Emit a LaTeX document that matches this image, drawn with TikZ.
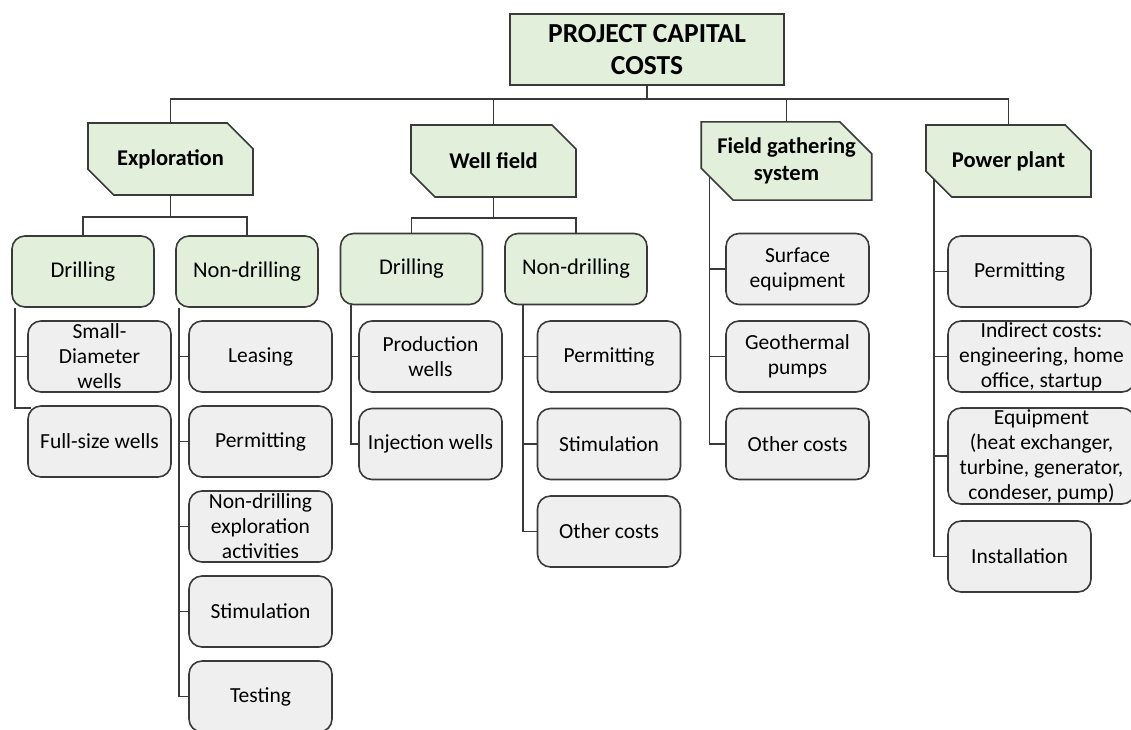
\documentclass[tikz,border=0pt]{standalone}
\usepackage{fontspec}
\setmainfont{Carlito}
\usetikzlibrary{shapes.misc,backgrounds}

\definecolor{boxgreen}{HTML}{E2EFDA}
\definecolor{boxgray}{HTML}{EFEFEF}
\definecolor{linegray}{HTML}{3A3A3A}

\tikzset{
  rootbox/.style={rectangle, draw=linegray, fill=boxgreen, line width=1.6pt,
                  minimum width=274pt, minimum height=71pt, inner sep=0pt, align=center,
                  font=\fontsize{27.5}{32}\selectfont\bfseries},
  catbox/.style={chamfered rectangle, chamfered rectangle corners={north east,south west},
                 chamfered rectangle xsep=16pt, chamfered rectangle ysep=16pt,
                 draw=linegray, fill=boxgreen, line width=1.6pt,
                 minimum width=165pt, minimum height=72pt, inner sep=0pt, align=center,
                 font=\fontsize{22.5}{27}\selectfont\bfseries},
  subbox/.style={rectangle, rounded corners=13pt, draw=linegray, fill=boxgreen, line width=1.6pt,
                 minimum width=142pt, minimum height=71pt, inner sep=0pt,
                 font=\fontsize{22.5}{27}\selectfont},
  leafbox/.style={rectangle, rounded corners=13pt, draw=linegray, fill=boxgray, line width=1.6pt,
                  minimum width=143pt, minimum height=71pt, inner sep=0pt, align=center,
                  font=\fontsize{21.5}{25}\selectfont},
  conn/.style={draw=linegray, line width=1.6pt}
}

\begin{document}
\begin{tikzpicture}[x=1pt,y=-1pt]

\useasboundingbox (0,0) rectangle (1131,729);

\def\colA{99.5};\def\colB{260.5};\def\colC{430.5};\def\colD{609};\def\colE{797.5};\def\colF{1019.5};

% top two levels
\node[rootbox] (root) at (647,49.5) {PROJECT CAPITAL\\COSTS};

\node[catbox] (cat_1) at (170.5,159) {Exploration};
\node[catbox] (cat_2) at (493.5,161) {Well field};
\node[catbox] (cat_3) at (786.5,161) {Field gathering\\system};
\node[catbox] (cat_4) at (1008.5,161) {Power plant};

\node[subbox] (sub_1) at (83,271.5) {Drilling};
\node[subbox] (sub_2) at (247,271.5) {Non-drilling};
\node[subbox] (sub_3) at (411.5,269) {Drilling};
\node[subbox] (sub_4) at (576,269) {Non-drilling};

% leaves
\node[leafbox] (leaf_a1) at (\colA,356.5) {Small-\\Diameter\\wells};
\node[leafbox] (leaf_a2) at (\colA,441.5) {Full-size wells};

\node[leafbox] (leaf_b1) at (\colB,356.5) {Leasing};
\node[leafbox] (leaf_b2) at (\colB,441.5) {Permitting};
\node[leafbox] (leaf_b3) at (\colB,526.5) {Non-drilling\\exploration\\activities};
\node[leafbox] (leaf_b4) at (\colB,611.5) {Stimulation};
\node[leafbox] (leaf_b5) at (\colB,696.5) {Testing};

\node[leafbox] (leaf_c1) at (\colC,356.5) {Production\\wells};
\node[leafbox] (leaf_c2) at (\colC,444) {Injection wells};

\node[leafbox] (leaf_d1) at (\colD,356.5) {Permitting};
\node[leafbox] (leaf_d2) at (\colD,444) {Stimulation};
\node[leafbox] (leaf_d3) at (\colD,531.5) {Other costs};

\node[leafbox] (leaf_e1) at (\colE,269) {Surface\\equipment};
\node[leafbox] (leaf_e2) at (\colE,356.5) {Geothermal\\pumps};
\node[leafbox] (leaf_e3) at (\colE,444) {Other costs};

\node[leafbox] (leaf_f1) at (\colF,271.5) {Permitting};
\node[leafbox, minimum width=187pt] (leaf_f2) at (1041.5,356.5) {Indirect costs:\\engineering, home\\office, startup};
\node[leafbox, minimum width=187pt, minimum height=96pt] (leaf_f3) at (1041.5,456) {Equipment\\(heat exchanger,\\turbine, generator,\\condeser, pump)};
\node[leafbox] (leaf_f4) at (\colF,556.5) {Installation};

\begin{scope}[on background layer]
\draw[conn] (root.south) -- ++(0,13) -| (cat_1.north);
\draw[conn] (root.south) -- ++(0,13) -| (cat_2.north);
\draw[conn] (root.south) -- ++(0,13) -| (cat_3.north);
\draw[conn] (root.south) -- ++(0,13) -| (cat_4.north);

\draw[conn] (cat_1.south) -- ++(0,21) -| (sub_1.north);
\draw[conn] (cat_1.south) -- ++(0,21) -| (sub_2.north);
\draw[conn] (cat_2.south) -- ++(0,20) -| (sub_3.north);
\draw[conn] (cat_2.south) -- ++(0,20) -| (sub_4.north);

\draw[conn] ([xshift=4pt]sub_1.south west) |- (leaf_a1.west);
\draw[conn] ([xshift=4pt]sub_1.south west) |- ([xshift=4pt,yshift=-3pt]leaf_a2.north west);

\draw[conn] ([xshift=4pt]sub_2.south west) |- (leaf_b1.west);
\draw[conn] ([xshift=4pt]sub_2.south west) |- (leaf_b2.west);
\draw[conn] ([xshift=4pt]sub_2.south west) |- (leaf_b3.west);
\draw[conn] ([xshift=4pt]sub_2.south west) |- (leaf_b4.west);
\draw[conn] ([xshift=4pt]sub_2.south west) |- (leaf_b5.west);

\draw[conn] ([xshift=11.5pt]sub_3.south west) |- (leaf_c1.west);
\draw[conn] ([xshift=11.5pt]sub_3.south west) |- (leaf_c2.west);

\draw[conn] ([xshift=18.5pt]sub_4.south west) |- (leaf_d1.west);
\draw[conn] ([xshift=18.5pt]sub_4.south west) |- (leaf_d2.west);
\draw[conn] ([xshift=18.5pt]sub_4.south west) |- (leaf_d3.west);

\draw[conn] ([xshift=9pt]cat_3.west) |- (leaf_e1.west);
\draw[conn] ([xshift=9pt]cat_3.west) |- (leaf_e2.west);
\draw[conn] ([xshift=9pt]cat_3.west) |- (leaf_e3.west);

\draw[conn] ([xshift=8.5pt]cat_4.west) |- (leaf_f1.west);
\draw[conn] ([xshift=8.5pt]cat_4.west) |- (leaf_f2.west);
\draw[conn] ([xshift=8.5pt]cat_4.west) |- (leaf_f3.west);
\draw[conn] ([xshift=8.5pt]cat_4.west) |- (leaf_f4.west);
\end{scope}

\end{tikzpicture}
\end{document}
